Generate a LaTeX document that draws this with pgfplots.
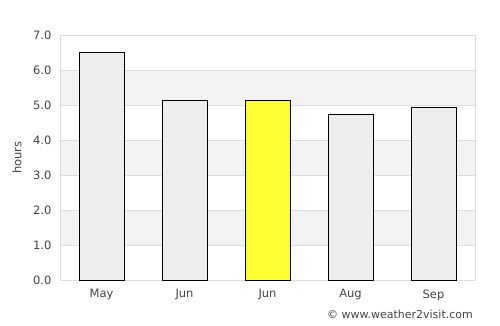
\documentclass[border=0pt]{standalone}
\usepackage{pgfplots}
\pgfplotsset{compat=1.18}
\usepackage{fontspec}
\setmainfont{DejaVu Sans}
\definecolor{txtc}{HTML}{444444}
\definecolor{gridc}{HTML}{DDDDDD}
\definecolor{bandc}{HTML}{F3F3F3}
\definecolor{bargc}{HTML}{EEEEEE}
\definecolor{baryc}{HTML}{FFFF33}
\begin{document}
\begin{tikzpicture}
\begin{axis}[
  at={(0pt,0pt)}, anchor=south west,
  scale only axis, width=415pt, height=245pt,
  xmin=-0.5, xmax=4.5, ymin=0, ymax=7,
  xtick={0,1,2,3,4}, xticklabels={May,Jun,Jun,Aug,Sep},
  ytick={0,1,...,7},
  yticklabel={\pgfmathprintnumber[fixed,fixed zerofill,precision=1]{\tick}},
  /pgf/number format/assume math mode=true,
  major tick length=0pt,
  ymajorgrids, grid style={draw=gridc, line width=0.8pt},
  axis line style={draw=gridc, line width=0.8pt},
  tick label style={font=\fontsize{11.5}{13}\selectfont, text=txtc},
  xticklabel style={yshift=-6pt},
  yticklabel style={xshift=-5pt},
  ylabel={hours}, ylabel style={font=\fontsize{11.5}{13}\selectfont, text=txtc, at={(axis description cs:0,0.5)}, yshift=35pt, anchor=south},
  ybar, bar width=45pt,
  set layers,
]
\pgfplotsextra{%
\begin{pgfonlayer}{axis background}
\fill[bandc] (axis cs:-0.5,1) rectangle (axis cs:4.5,2);
\fill[bandc] (axis cs:-0.5,3) rectangle (axis cs:4.5,4);
\fill[bandc] (axis cs:-0.5,5) rectangle (axis cs:4.5,6);
\end{pgfonlayer}}
\addplot[bar shift=0pt, fill=bargc, draw=black, line width=0.9pt] coordinates {(0,6.51) (1,5.13) (3,4.74) (4,4.93)};
\addplot[bar shift=0pt, fill=baryc, draw=black, line width=0.9pt] coordinates {(2,5.13)};
\end{axis}
\node[anchor=base east, inner sep=0pt, font=\fontsize{11}{13}\selectfont, text=txtc] at (413pt,-38pt) {© www.weather2visit.com};
\path[use as bounding box] (-60pt,-45pt) rectangle (440pt,280pt);
\end{tikzpicture}
\end{document}
